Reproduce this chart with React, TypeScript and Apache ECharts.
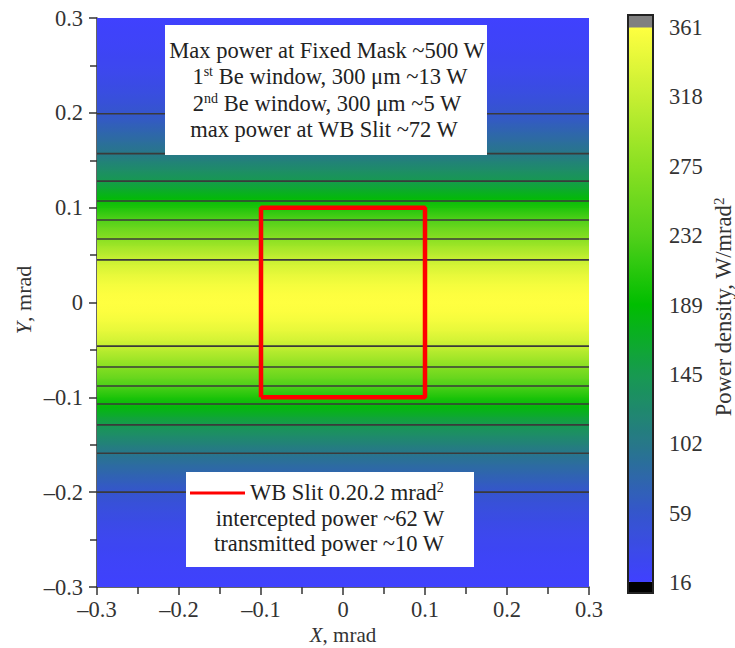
import React, { useEffect, useRef } from "react";
import * as echarts from "echarts";

// ---- data ----
const X_MIN = -0.3;
const X_MAX = 0.3;

// Y sample positions (mrad) and power density (W/mrad^2) along Y (uniform in X)
const PROFILE_Y = [
  -0.3, -0.29, -0.28, -0.27, -0.26, -0.25, -0.24, -0.23, -0.22, -0.21,
  -0.2, -0.19, -0.18, -0.17, -0.16, -0.15, -0.14, -0.13, -0.12, -0.11,
  -0.1, -0.09, -0.08, -0.07, -0.06, -0.05, -0.04, -0.03, -0.02, -0.01,
  0,
  0.01, 0.02, 0.03, 0.04, 0.05, 0.06, 0.07, 0.08, 0.09, 0.1,
  0.11, 0.12, 0.13, 0.14, 0.15, 0.16, 0.17, 0.18, 0.19, 0.2,
  0.21, 0.22, 0.23, 0.24, 0.25, 0.26, 0.27, 0.28, 0.29, 0.3,
];
const PROFILE_V = [
  17, 19, 21, 23, 26, 29, 33, 38, 43, 50,
  58, 68, 78, 88, 99, 112, 127, 142, 162, 183,
  204, 226, 247, 268, 289, 309, 328, 342, 352, 359,
  362,
  359, 352, 342, 328, 309, 289, 268, 247, 226, 204,
  183, 162, 142, 127, 112, 99, 88, 78, 68, 58,
  50, 43, 38, 33, 29, 26, 23, 21, 19, 17,
];

// contour lines: levels and their Y positions
const CONTOUR_LEVELS = [318, 275, 232, 189, 145, 102, 59];
const CONTOUR_Y_TOP = [0.045, 0.067, 0.087, 0.107, 0.128, 0.157, 0.199];
const CONTOUR_Y_BOTTOM = [-0.046, -0.068, -0.088, -0.107, -0.129, -0.159, -0.2];

// WB slit rectangle
const SLIT_X = [-0.1, 0.1, 0.1, -0.1, -0.1];
const SLIT_Y = [-0.1, -0.1, 0.1, 0.1, -0.1];

// colour bar
const CB_MIN = 16;
const CB_MAX = 361;
const CB_TICKS = ["16", "59", "102", "145", "189", "232", "275", "318", "361"];
const CB_COLORS = [
  "#4040ff",
  "#3556cc",
  "#277888",
  "#179a50",
  "#00be00",
  "#52d01a",
  "#8ae022",
  "#c6ef32",
  "#ffff40",
];

const TOP_NOTE = [
  "Max power at Fixed Mask ~500 W",
  "1{sup|st} Be window, 300 μm ~13 W",
  "2{sup|nd} Be window, 300 μm ~5 W",
  "max power at WB Slit ~72 W",
];
const BOTTOM_NOTE = [
  "WB Slit 0.20.2 mrad{sup|2}",
  "intercepted power ~62 W",
  "transmitted power ~10 W",
];

const FONT = '"Liberation Serif", "Times New Roman", serif';
const TXT = "#333333";
const TICK_FS = 22.5;

function colorOf(v: number): string {
  const t = Math.max(0, Math.min(1, (v - CB_MIN) / (CB_MAX - CB_MIN)));
  return echarts.color.lerp(t, CB_COLORS) as string;
}

function fmtTick(v: number): string {
  const r = Math.round(v * 10) / 10;
  if (Math.abs(r) < 1e-9) return "0";
  return (r < 0 ? "\u2013" : "") + Math.abs(r).toFixed(1);
}

export default function App() {
  const ref = useRef<HTMLDivElement>(null);

  useEffect(() => {
    if (!ref.current) return;
    const chart = echarts.init(ref.current, undefined, { renderer: "svg" });

    const densityData = PROFILE_Y.map((y, i) => [X_MIN, y, PROFILE_V[i]]);
    const contourData = [...CONTOUR_Y_TOP, ...CONTOUR_Y_BOTTOM].map((y) => [X_MIN, y]);
    const slitData = SLIT_X.map((x, i) => [x, SLIT_Y[i]]);

    const supRich = {
      sup: { fontSize: 14, fontFamily: FONT, fill: "#222", verticalAlign: "top" as const },
    };

    const textEl = (text: string, x: number, y: number, align = "center") => ({
      type: "text",
      x,
      y,
      z: 110,
      silent: true,
      style: {
        text,
        fontSize: 22.5,
        fontFamily: FONT,
        fill: "#222",
        align,
        verticalAlign: "middle",
        rich: supRich,
      },
    });

    const option: any = {
      animation: false,
      backgroundColor: "#ffffff",
      grid: [
        { left: 97, top: 18, width: 492, height: 569 },
        { left: 628, top: 27.5, width: 25, height: 555 },
      ],
      xAxis: [
        {
          type: "value",
          gridIndex: 0,
          min: X_MIN,
          max: X_MAX,
          interval: 0.1,
          axisLine: { show: true, onZero: false, lineStyle: { color: "#333", width: 1.5 } },
          axisTick: { show: true, length: 8, lineStyle: { color: "#333", width: 1.5 } },
          minorTick: { show: true, splitNumber: 2, length: 7, lineStyle: { color: "#333", width: 1.5 } },
          splitLine: { show: false },
          axisLabel: { formatter: fmtTick, fontSize: TICK_FS, fontFamily: FONT, color: TXT, margin: 11 },
        },
        { type: "value", gridIndex: 1, min: 0, max: 1, show: false },
      ],
      yAxis: [
        {
          type: "value",
          gridIndex: 0,
          min: -0.3,
          max: 0.3,
          interval: 0.1,
          axisLine: { show: true, onZero: false, lineStyle: { color: "#333", width: 1.5 } },
          axisTick: { show: true, length: 8, lineStyle: { color: "#333", width: 1.5 } },
          minorTick: { show: true, splitNumber: 2, length: 7, lineStyle: { color: "#333", width: 1.5 } },
          splitLine: { show: false },
          axisLabel: { formatter: fmtTick, fontSize: TICK_FS, fontFamily: FONT, color: TXT, margin: 14 },
        },
        {
          type: "value",
          gridIndex: 1,
          min: 0,
          max: CB_TICKS.length - 1,
          interval: 1,
          position: "right",
          axisLine: { show: false },
          axisTick: { show: true, length: 8, lineStyle: { color: "#555", width: 1.5 } },
          splitLine: { show: false },
          axisLabel: {
            formatter: (v: number) => CB_TICKS[Math.round(v)] ?? "",
            fontSize: TICK_FS,
            fontFamily: FONT,
            color: TXT,
            margin: 16,
          },
        },
      ],
      visualMap: {
        type: "continuous",
        min: CB_MIN,
        max: CB_MAX,
        seriesIndex: 0,
        dimension: 2,
        left: 628,
        top: 27,
        itemWidth: 25,
        itemHeight: 555,
        padding: 0,
        calculable: false,
        hoverLink: false,
        text: ["", ""],
        textStyle: { fontSize: 0, color: "transparent" },
        inRange: { color: CB_COLORS },
      },
      series: [
        {
          type: "custom",
          xAxisIndex: 0,
          yAxisIndex: 0,
          clip: true,
          silent: true,
          z: 1,
          data: densityData,
          renderItem: (params: any, api: any) => {
            const i = params.dataIndex;
            if (i >= PROFILE_Y.length - 1) return null;
            const p0 = api.coord([X_MIN, PROFILE_Y[i]]);
            const p1 = api.coord([X_MAX, PROFILE_Y[i + 1]]);
            return {
              type: "rect",
              shape: { x: p0[0], y: p1[1] - 0.5, width: p1[0] - p0[0], height: p0[1] - p1[1] + 1 },
              style: {
                fill: new echarts.graphic.LinearGradient(0, 0, 0, 1, [
                  { offset: 0, color: colorOf(PROFILE_V[i + 1]) },
                  { offset: 1, color: colorOf(PROFILE_V[i]) },
                ]),
              },
            };
          },
        },
        {
          type: "custom",
          name: "contours",
          xAxisIndex: 0,
          yAxisIndex: 0,
          silent: true,
          z: 3,
          data: contourData,
          renderItem: (params: any, api: any) => {
            const y = api.value(1);
            const a = api.coord([X_MIN, y]);
            const b = api.coord([X_MAX, y]);
            return {
              type: "line",
              shape: { x1: a[0], y1: a[1], x2: b[0], y2: b[1] },
              style: { stroke: "#3a3a3a", lineWidth: 1.6 },
            };
          },
        },
        {
          type: "line",
          name: "WB Slit",
          xAxisIndex: 0,
          yAxisIndex: 0,
          data: slitData,
          symbol: "none",
          silent: true,
          z: 5,
          lineStyle: { color: "#ff0000", width: 4.5 },
        },
      ],
      graphic: [
        // colour bar caps and frame
        { type: "rect", z: 50, silent: true, shape: { x: 628, y: 15, width: 25, height: 12.5 }, style: { fill: "#808080" } },
        { type: "rect", z: 50, silent: true, shape: { x: 628, y: 582, width: 25, height: 11 }, style: { fill: "#000000" } },
        { type: "rect", z: 51, silent: true, shape: { x: 628, y: 15, width: 25, height: 578 }, style: { fill: "none", stroke: "#222", lineWidth: 2 } },
        // top note box
        { type: "rect", z: 100, silent: true, shape: { x: 165, y: 25, width: 322, height: 130 }, style: { fill: "#ffffff" } },
        textEl(TOP_NOTE[0], 327, 50),
        textEl(TOP_NOTE[1], 330, 76),
        textEl(TOP_NOTE[2], 327, 103),
        textEl(TOP_NOTE[3], 324, 129),
        // bottom note box
        { type: "rect", z: 100, silent: true, shape: { x: 186, y: 472, width: 288, height: 95 }, style: { fill: "#ffffff" } },
        { type: "line", z: 110, silent: true, shape: { x1: 190, y1: 493, x2: 245, y2: 493 }, style: { stroke: "#ff0000", lineWidth: 3 } },
        textEl(BOTTOM_NOTE[0], 250, 492, "left"),
        textEl(BOTTOM_NOTE[1], 330, 518),
        textEl(BOTTOM_NOTE[2], 329, 543),
        // axis titles
        {
          type: "text",
          x: 343,
          y: 635,
          silent: true,
          style: {
            text: "{i|X}, mrad",
            fontSize: 21,
            fontFamily: FONT,
            fill: TXT,
            align: "center",
            verticalAlign: "middle",
            rich: { i: { fontStyle: "italic", fontSize: 21, fontFamily: FONT, fill: TXT } },
          },
        },
        {
          type: "text",
          x: 23,
          y: 300,
          rotation: Math.PI / 2,
          silent: true,
          style: {
            text: "{i|Y}, mrad",
            fontSize: 22,
            fontFamily: FONT,
            fill: TXT,
            align: "center",
            verticalAlign: "middle",
            rich: { i: { fontStyle: "italic", fontSize: 22, fontFamily: FONT, fill: TXT } },
          },
        },
        {
          type: "text",
          x: 723,
          y: 307,
          rotation: Math.PI / 2,
          silent: true,
          style: {
            text: "Power density, W/mrad{sup|2}",
            fontSize: 22.5,
            fontFamily: FONT,
            fill: TXT,
            align: "center",
            verticalAlign: "middle",
            rich: { sup: { fontSize: 15, fontFamily: FONT, fill: TXT, verticalAlign: "top" } },
          },
        },
      ],
    };

    chart.setOption(option);
    return () => chart.dispose();
  }, []);

  return (
    <div
      ref={ref}
      style={{ position: "fixed", left: 0, top: 0, width: 735, height: 648, background: "#fff" }}
    />
  );
}
